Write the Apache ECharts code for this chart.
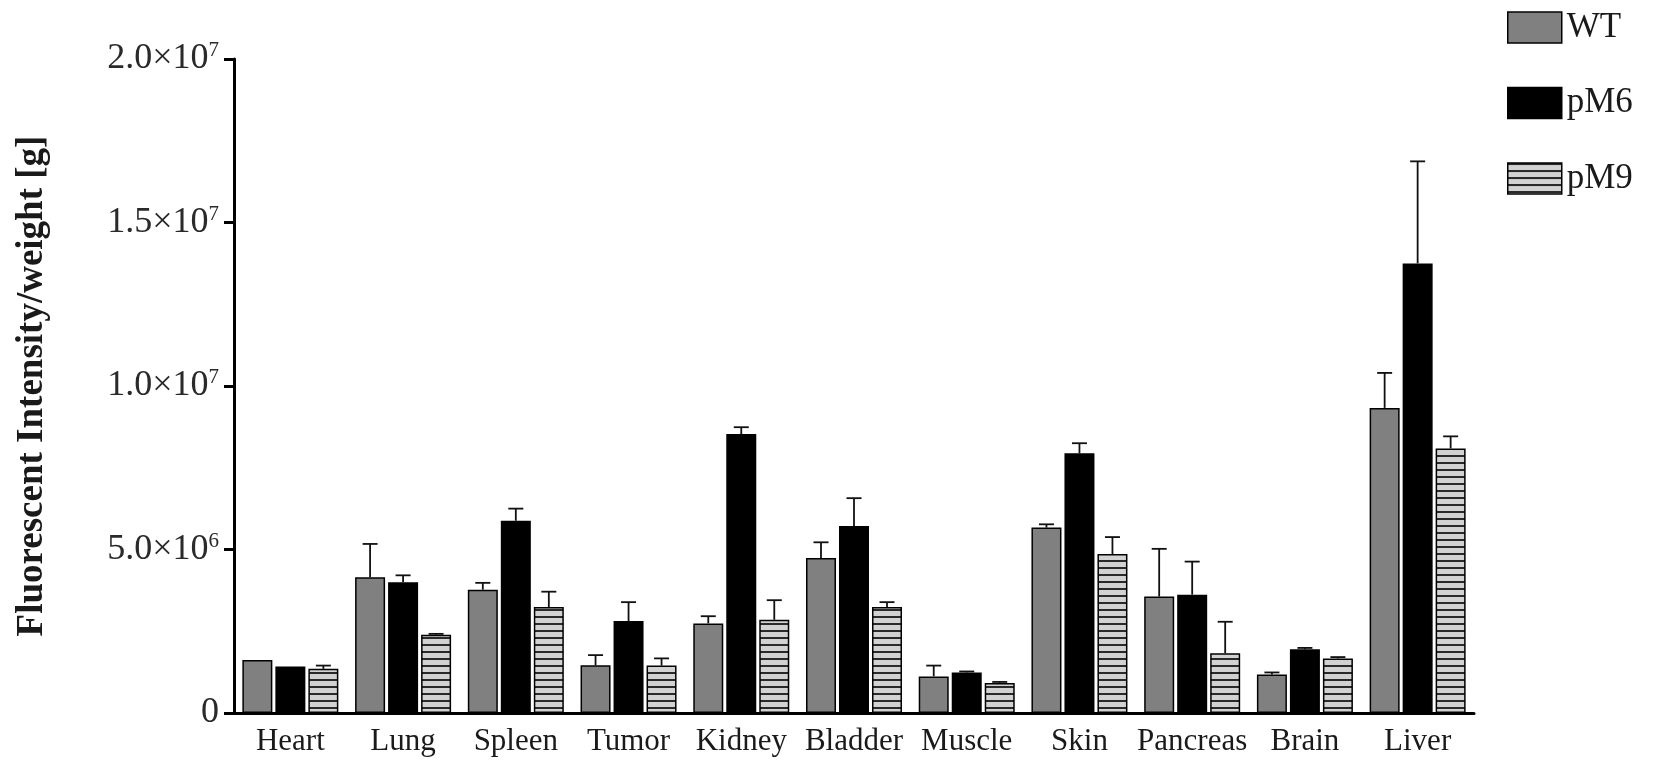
<!DOCTYPE html>
<html>
<head>
<meta charset="utf-8">
<script src="https://cdn.jsdelivr.net/npm/echarts@6/dist/echarts.min.js"></script>
<style>
  html, body { margin: 0; padding: 0; background: #fff; }
  #chart { width: 1654px; height: 767px; }
</style>
</head>
<body>
<div id="chart"></div>
<script>
// Organs along the x axis
const categories = ['Heart', 'Lung', 'Spleen', 'Tumor', 'Kidney', 'Bladder', 'Muscle', 'Skin', 'Pancreas', 'Brain', 'Liver'];
const seriesNames = ['WT', 'pM6', 'pM9'];

// Mean fluorescent intensity per gram
const wtMean  = [1620000, 4150000, 3770000, 1460000, 2740000, 4740000, 1120000, 5670000, 3560000, 1180000, 9330000];
const pm6Mean = [1420000, 4000000, 5880000, 2810000, 8530000, 5720000, 1240000, 7940000, 3620000, 1950000, 13750000];
const pm9Mean = [1350000, 2390000, 3240000, 1450000, 2850000, 3240000, 920000, 4860000, 1830000, 1670000, 8090000];

// Upper error (SD) for each bar
const wtErr  = [0, 1020000, 210000, 310000, 220000, 480000, 330000, 100000, 1460000, 60000, 1070000];
const pm6Err = [0, 210000, 370000, 580000, 210000, 850000, 30000, 310000, 1010000, 40000, 3120000];
const pm9Err = [100000, 30000, 470000, 220000, 600000, 150000, 30000, 520000, 960000, 40000, 370000];

// y axis range and ticks
const yMin = 0;
const yMax = 20000000;
const yStep = 5000000;

const means = [wtMean, pm6Mean, pm9Mean];
const errs = [wtErr, pm6Err, pm9Err];

const FONT = '"Liberation Serif", "Times New Roman", serif';
const BAR_W = 30;
const BAR_GAP_PX = 3;

// horizontal striped fill for the third group
function stripePattern() {
  const c = document.createElement('canvas');
  c.width = 8; c.height = 7;
  const g = c.getContext('2d');
  g.fillStyle = '#d2d2d2';
  g.fillRect(0, 0, 8, 7);
  g.fillStyle = '#2a2a2a';
  g.fillRect(0, 0, 8, 2);
  return { image: c, repeat: 'repeat' };
}

const fills = ['#808080', '#000000', stripePattern()];

function sciLabel(v) {
  if (v === 0) return '{m|0}';
  const exp = Math.floor(Math.log10(v) + 1e-9);
  const mant = v / Math.pow(10, exp);
  return '{m|' + mant.toFixed(1) + '×10}{e|' + exp + '}';
}

const barSeries = seriesNames.map((name, k) => ({
  name: name,
  type: 'bar',
  data: means[k],
  barWidth: BAR_W,
  barGap: (BAR_GAP_PX / BAR_W * 100) + '%',
  itemStyle: { color: fills[k], borderColor: '#000', borderWidth: 1.5 },
  z: 2
}));

// error bars: stem up from the bar top, short cap at the end
const errData = [];
seriesNames.forEach((name, k) => {
  categories.forEach((c, i) => {
    if (errs[k][i] > 0) errData.push([i, means[k][i], errs[k][i], k]);
  });
});

const errSeries = {
  type: 'custom',
  data: errData,
  z: 3,
  silent: true,
  renderItem: function (params, api) {
    const ci = api.value(0), v = api.value(1), e = api.value(2), k = api.value(3);
    const base = api.coord([ci, v]);
    const top = api.coord([ci, v + e]);
    const x = base[0] + (k - 1) * (BAR_W + BAR_GAP_PX);
    const st = { stroke: '#111', lineWidth: 1.8 };
    return {
      type: 'group',
      children: [
        { type: 'line', shape: { x1: x, y1: base[1], x2: x, y2: top[1] }, style: st },
        { type: 'line', shape: { x1: x - 7.5, y1: top[1], x2: x + 7.5, y2: top[1] }, style: st }
      ]
    };
  }
};

const chart = echarts.init(document.getElementById('chart'), null, { renderer: 'canvas' });
chart.setOption({
  animation: false,
  backgroundColor: '#ffffff',
  textStyle: { fontFamily: FONT },
  grid: { left: 234, top: 59, width: 1240, bottom: 54, containLabel: false, outerBoundsMode: 'none' },
  legend: {
    orient: 'vertical',
    left: 1507,
    top: 10,
    padding: 0,
    itemWidth: 54,
    itemHeight: 31,
    itemGap: 40.5,
    icon: 'rect',
    data: seriesNames,
    itemStyle: { borderColor: '#000', borderWidth: 1.5 },
    textStyle: { fontFamily: FONT, fontSize: 35, color: '#1a1a1a' }
  },
  xAxis: {
    type: 'category',
    data: categories,
    axisLine: { lineStyle: { color: '#000', width: 3 } },
    axisTick: { alignWithLabel: true, length: 11, lineStyle: { color: '#000', width: 3 } },
    axisLabel: { fontFamily: FONT, fontSize: 31, color: '#1a1a1a', margin: 13, interval: 0 }
  },
  yAxis: {
    type: 'value',
    min: yMin,
    max: yMax,
    interval: yStep,
    name: 'Fluorescent Intensity/weight [g]',
    nameLocation: 'middle',
    nameRotate: 90,
    nameGap: 183,
    nameTextStyle: { fontFamily: FONT, fontSize: 37, fontWeight: 'bold', color: '#1a1a1a' },
    splitLine: { show: false },
    axisLine: { show: true, lineStyle: { color: '#000', width: 3 } },
    axisTick: { show: true, length: 10, lineStyle: { color: '#000', width: 3 } },
    axisLabel: {
      margin: 15,
      formatter: sciLabel,
      rich: {
        m: { fontFamily: FONT, fontSize: 36, color: '#2a2a2a' },
        e: { fontFamily: FONT, fontSize: 21, color: '#2a2a2a', padding: [0, 0, 17, 0] }
      }
    }
  },
  series: barSeries.concat([errSeries])
});
</script>
</body>
</html>
